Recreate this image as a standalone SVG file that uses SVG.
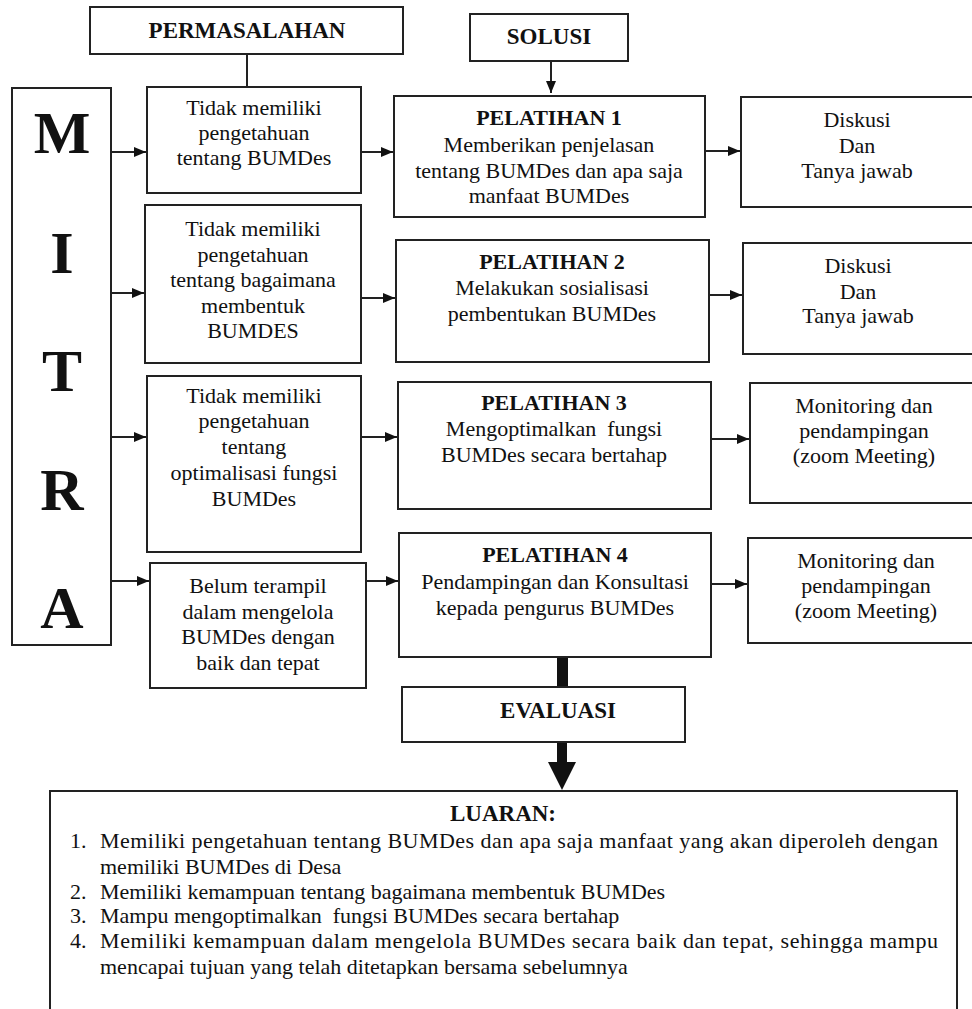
<svg xmlns="http://www.w3.org/2000/svg" width="972" height="1009" viewBox="0 0 972 1009">
<style>
.box{fill:#fff;stroke:#222;stroke-width:2}
.t{font-family:"Liberation Serif","Times New Roman",serif;font-size:22px;fill:#111;text-anchor:middle}
.b{font-weight:bold}
.h{font-family:"Liberation Serif","Times New Roman",serif;font-size:23px;font-weight:bold;fill:#111;text-anchor:middle}
.big{font-family:"Liberation Serif","Times New Roman",serif;font-size:60px;font-weight:bold;fill:#111;text-anchor:middle}
.li{font-family:"Liberation Serif","Times New Roman",serif;font-size:22px;fill:#111}
.c{fill:none;stroke:#222;stroke-width:2}
</style>
<defs>
<marker id="ah" markerWidth="12" markerHeight="10" refX="12" refY="5" orient="auto" markerUnits="userSpaceOnUse">
<path d="M0,0 L12,5 L0,10 z" fill="#111"/>
</marker>
</defs>

<g id="connectors">
<line class="c" x1="247" y1="54" x2="247" y2="87"/>
<line class="c" x1="551" y1="61" x2="551" y2="93" marker-end="url(#ah)"/>
<line class="c" x1="111" y1="152" x2="146" y2="152" marker-end="url(#ah)"/>
<line class="c" x1="111" y1="293" x2="144" y2="293" marker-end="url(#ah)"/>
<line class="c" x1="111" y1="437" x2="146" y2="437" marker-end="url(#ah)"/>
<line class="c" x1="111" y1="581" x2="149" y2="581" marker-end="url(#ah)"/>
<line class="c" x1="361" y1="152" x2="393" y2="152" marker-end="url(#ah)"/>
<line class="c" x1="361" y1="298" x2="395" y2="298" marker-end="url(#ah)"/>
<line class="c" x1="361" y1="437" x2="397" y2="437" marker-end="url(#ah)"/>
<line class="c" x1="366" y1="581" x2="398" y2="581" marker-end="url(#ah)"/>
<line class="c" x1="705" y1="151" x2="740" y2="151" marker-end="url(#ah)"/>
<line class="c" x1="709" y1="295" x2="742" y2="295" marker-end="url(#ah)"/>
<line class="c" x1="711" y1="439" x2="749" y2="439" marker-end="url(#ah)"/>
<line class="c" x1="711" y1="584" x2="747" y2="584" marker-end="url(#ah)"/>
<rect x="557" y="657" width="11" height="30" fill="#111"/>
<path d="M557,742 L567,742 L567,762 L576,762 L562,790 L548,762 L557,762 z" fill="#111"/>
</g>

<g id="permasalahan">
<rect class="box" x="90" y="7" width="313" height="47"/>
<text class="h" x="247" y="38">PERMASALAHAN</text>
</g>

<g id="solusi">
<rect class="box" x="470" y="14" width="158" height="47"/>
<text class="h" x="549" y="44">SOLUSI</text>
</g>

<g id="mitra">
<rect class="box" x="12" y="88" width="99" height="557"/>
<text class="big" x="62" y="153">M</text>
<text class="big" x="62" y="273">I</text>
<text class="big" x="62" y="391">T</text>
<text class="big" x="62" y="510">R</text>
<text class="big" x="62" y="628">A</text>
</g>

<g id="masalah1">
<rect class="box" x="147" y="87" width="214" height="106"/>
<text class="t" x="254" y="115">Tidak memiliki</text>
<text class="t" x="254" y="140">pengetahuan</text>
<text class="t" x="254" y="165">tentang BUMDes</text>
</g>

<g id="masalah2">
<rect class="box" x="145" y="205" width="216" height="158"/>
<text class="t" x="253" y="236">Tidak memiliki</text>
<text class="t" x="253" y="261.5">pengetahuan</text>
<text class="t" x="253" y="287">tentang bagaimana</text>
<text class="t" x="253" y="312.5">membentuk</text>
<text class="t" x="253" y="338">BUMDES</text>
</g>

<g id="masalah3">
<rect class="box" x="147" y="376" width="214" height="176"/>
<text class="t" x="254" y="403">Tidak memiliki</text>
<text class="t" x="254" y="428">pengetahuan</text>
<text class="t" x="254" y="454">tentang</text>
<text class="t" x="254" y="480">optimalisasi fungsi</text>
<text class="t" x="254" y="506">BUMDes</text>
</g>

<g id="masalah4">
<rect class="box" x="150" y="563" width="216" height="125"/>
<text class="t" x="258" y="593">Belum terampil</text>
<text class="t" x="258" y="619">dalam mengelola</text>
<text class="t" x="258" y="644">BUMDes dengan</text>
<text class="t" x="258" y="670">baik dan tepat</text>
</g>

<g id="pelatihan1">
<rect class="box" x="394" y="96" width="311" height="121"/>
<text class="t b" x="549" y="125">PELATIHAN 1</text>
<text class="t" x="549" y="152">Memberikan penjelasan</text>
<text class="t" x="549" y="178">tentang BUMDes dan apa saja</text>
<text class="t" x="549" y="203">manfaat BUMDes</text>
</g>

<g id="pelatihan2">
<rect class="box" x="396" y="240" width="313" height="122"/>
<text class="t b" x="552" y="269">PELATIHAN 2</text>
<text class="t" x="552" y="295">Melakukan sosialisasi</text>
<text class="t" x="552" y="321">pembentukan BUMDes</text>
</g>

<g id="pelatihan3">
<rect class="box" x="398" y="382" width="313" height="127"/>
<text class="t b" x="554" y="410">PELATIHAN 3</text>
<text class="t" x="554" y="436" xml:space="preserve">Mengoptimalkan  fungsi</text>
<text class="t" x="554" y="462">BUMDes secara bertahap</text>
</g>

<g id="pelatihan4">
<rect class="box" x="399" y="533" width="312" height="124"/>
<text class="t b" x="555" y="562">PELATIHAN 4</text>
<text class="t" x="555" y="589">Pendampingan dan Konsultasi</text>
<text class="t" x="555" y="615">kepada pengurus BUMDes</text>
</g>

<g id="hasil1">
<rect class="box" x="741" y="97" width="240" height="110"/>
<text class="t" x="857" y="127">Diskusi</text>
<text class="t" x="857" y="153">Dan</text>
<text class="t" x="857" y="178">Tanya jawab</text>
</g>

<g id="hasil2">
<rect class="box" x="743" y="243" width="240" height="111"/>
<text class="t" x="858" y="273">Diskusi</text>
<text class="t" x="858" y="299">Dan</text>
<text class="t" x="858" y="323">Tanya jawab</text>
</g>

<g id="hasil3">
<rect class="box" x="750" y="383" width="240" height="120"/>
<text class="t" x="864" y="413">Monitoring dan</text>
<text class="t" x="864" y="438">pendampingan</text>
<text class="t" x="864" y="463">(zoom Meeting)</text>
</g>

<g id="hasil4">
<rect class="box" x="748" y="538" width="240" height="105"/>
<text class="t" x="866" y="568">Monitoring dan</text>
<text class="t" x="866" y="593">pendampingan</text>
<text class="t" x="866" y="618">(zoom Meeting)</text>
</g>

<g id="evaluasi">
<rect class="box" x="402" y="687" width="283" height="55"/>
<text class="h" x="558" y="718">EVALUASI</text>
</g>

<g id="luaran">
<rect class="box" x="50" y="791" width="907" height="230"/>
<text class="h" x="503" y="821">LUARAN:</text>
<text class="li" x="70" y="848">1.</text>
<text class="li" x="100" y="848" textLength="838" lengthAdjust="spacing">Memiliki pengetahuan tentang BUMDes dan apa saja manfaat yang akan diperoleh dengan</text>
<text class="li" x="100" y="874">memiliki BUMDes di Desa</text>
<text class="li" x="70" y="899">2.</text>
<text class="li" x="100" y="899">Memiliki kemampuan tentang bagaimana membentuk BUMDes</text>
<text class="li" x="70" y="923">3.</text>
<text class="li" x="100" y="923" xml:space="preserve">Mampu mengoptimalkan  fungsi BUMDes secara bertahap</text>
<text class="li" x="70" y="948">4.</text>
<text class="li" x="100" y="948" textLength="838" lengthAdjust="spacing">Memiliki kemampuan dalam mengelola BUMDes secara baik dan tepat, sehingga mampu</text>
<text class="li" x="100" y="974">mencapai tujuan yang telah ditetapkan bersama sebelumnya</text>
</g>
</svg>
